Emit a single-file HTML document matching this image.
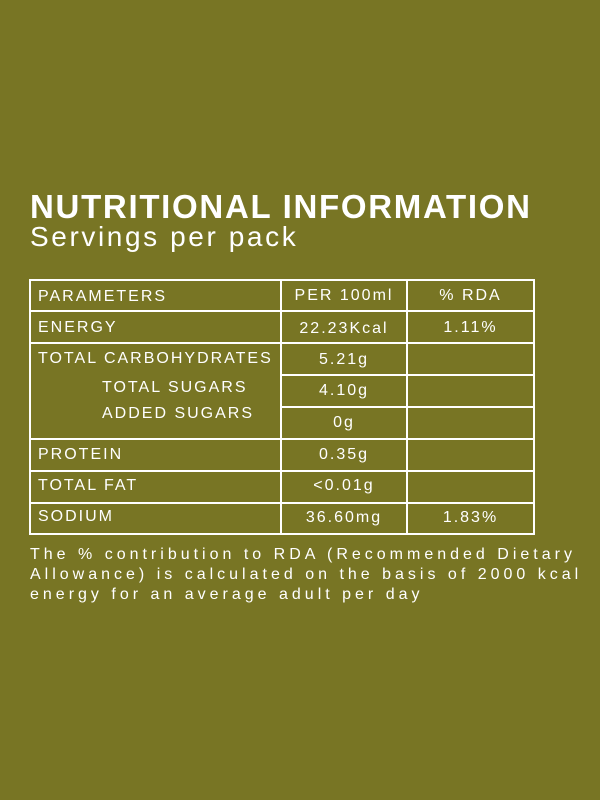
<!DOCTYPE html>
<html><head><style>
body{margin:0;width:600px;height:800px;background:#787524;font-family:"Liberation Sans",sans-serif;color:#fff;position:relative;overflow:hidden}
.t{position:absolute;left:30px;top:188px;font-size:33px;font-weight:bold;letter-spacing:1.7px;white-space:nowrap}
.s{position:absolute;left:30px;top:221px;font-size:28px;letter-spacing:2.6px;white-space:nowrap}
.l{position:absolute;background:#fff}
.x{position:absolute;font-size:16px;letter-spacing:2px;white-space:nowrap}
.c{text-align:center}
.f{position:absolute;left:30px;top:545px;font-size:16px;letter-spacing:4px;line-height:20px;white-space:nowrap}
</style></head><body>
<div class="t">NUTRITIONAL INFORMATION</div>
<div class="s">Servings per pack</div>
<div class="l" style="left:29px;top:279px;width:506px;height:2px"></div>
<div class="l" style="left:29px;top:533px;width:506px;height:2px"></div>
<div class="l" style="left:29px;top:279px;width:2px;height:256px"></div>
<div class="l" style="left:533px;top:279px;width:2px;height:256px"></div>
<div class="l" style="left:280px;top:279px;width:2px;height:256px"></div>
<div class="l" style="left:406px;top:279px;width:2px;height:256px"></div>
<div class="l" style="left:29px;top:310px;width:506px;height:2px"></div>
<div class="l" style="left:29px;top:342px;width:506px;height:2px"></div>
<div class="l" style="left:280px;top:374px;width:255px;height:2px"></div>
<div class="l" style="left:280px;top:406px;width:255px;height:2px"></div>
<div class="l" style="left:29px;top:438px;width:506px;height:2px"></div>
<div class="l" style="left:29px;top:470px;width:506px;height:2px"></div>
<div class="l" style="left:29px;top:502px;width:506px;height:2px"></div>

<div class="x" style="left:38px;top:288px">PARAMETERS</div>
<div class="x c" style="left:282px;width:124px;top:287px">PER 100ml</div>
<div class="x c" style="left:408px;width:125px;top:287px">% RDA</div>
<div class="x" style="left:38px;top:319px">ENERGY</div>
<div class="x c" style="left:282px;width:124px;top:320px">22.23Kcal</div>
<div class="x c" style="left:408px;width:125px;top:319px">1.11%</div>
<div class="x" style="left:38px;top:350px">TOTAL CARBOHYDRATES</div>
<div class="x c" style="left:282px;width:124px;top:351px">5.21g</div>
<div class="x" style="left:102px;top:379px">TOTAL SUGARS</div>
<div class="x c" style="left:282px;width:124px;top:382px">4.10g</div>
<div class="x" style="left:102px;top:405px">ADDED SUGARS</div>
<div class="x c" style="left:282px;width:124px;top:414px">0g</div>
<div class="x" style="left:38px;top:446px">PROTEIN</div>
<div class="x c" style="left:282px;width:124px;top:446px">0.35g</div>
<div class="x" style="left:38px;top:477px">TOTAL FAT</div>
<div class="x c" style="left:282px;width:124px;top:477px">&lt;0.01g</div>
<div class="x" style="left:38px;top:508px">SODIUM</div>
<div class="x c" style="left:282px;width:124px;top:509px">36.60mg</div>
<div class="x c" style="left:408px;width:125px;top:509px">1.83%</div>

<div class="f">The % contribution to RDA (Recommended Dietary<br>Allowance) is calculated on the basis of 2000 kcal<br>energy for an average adult per day</div>
</body></html>
